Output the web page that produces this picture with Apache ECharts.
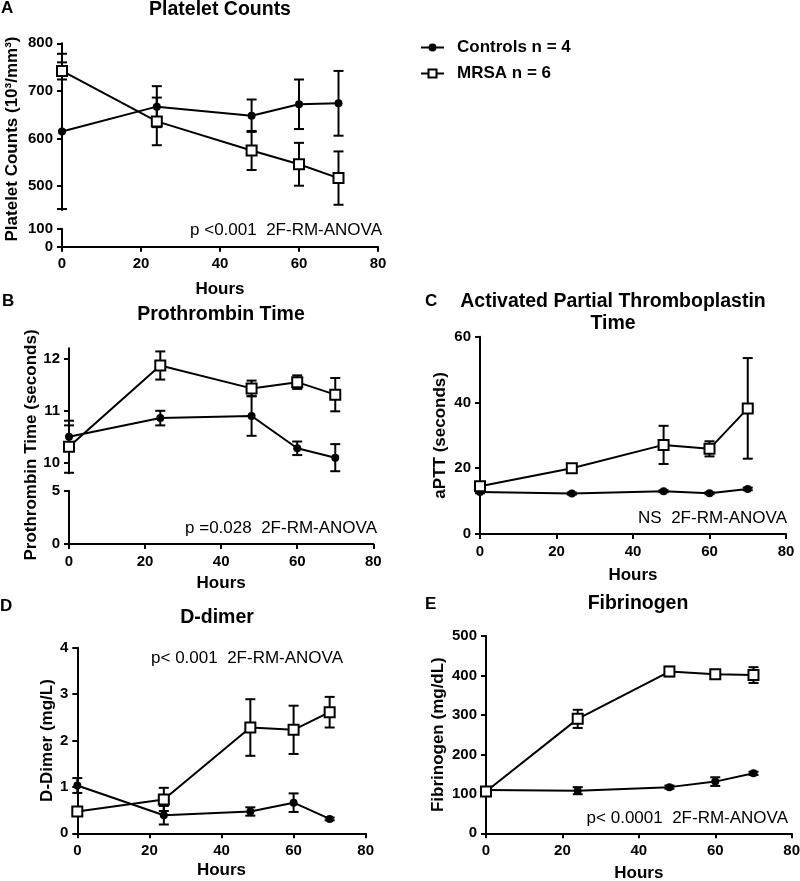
<!DOCTYPE html>
<html><head><meta charset="utf-8">
<script src="https://cdn.jsdelivr.net/npm/echarts@6/dist/echarts.min.js"></script>
<style>html,body{margin:0;padding:0;background:#fff}#c{width:800px;height:881px}</style>
</head><body><div id="c"></div>
<script>
// ---------- data ----------
const hours = [0, 24, 48, 60, 70];
const seriesNames = ['Controls n = 4', 'MRSA n = 6'];

const plateletCtrl    = [615, 667, 648, 672, 674];
const plateletCtrlErr = [163, 43, 34, 52, 68];
const plateletMrsa    = [742, 636, 575, 546, 517];
const plateletMrsaErr = [18, 50, 41, 45, 56];

const ptCtrl    = [10.50, 10.86, 10.90, 10.28, 10.10];
const ptCtrlErr = [0.22, 0.14, 0.38, 0.13, 0.26];
const ptMrsa    = [10.31, 11.87, 11.43, 11.55, 11.31];
const ptMrsaErr = [0.50, 0.27, 0.15, 0.13, 0.32];

const apttCtrl    = [12.8, 12.3, 13.0, 12.4, 13.7];
const apttCtrlErr = [0.4, 0.3, 0.3, 0.3, 0.4];
const apttMrsa    = [14.5, 20.0, 27.1, 25.9, 38.2];
const apttMrsaErr = [1.0, 0.8, 5.8, 2.3, 15.3];

const ddCtrl    = [1.03, 0.39, 0.47, 0.66, 0.31];
const ddCtrlErr = [0.16, 0.20, 0.09, 0.20, 0.03];
const ddMrsa    = [0.47, 0.73, 2.28, 2.23, 2.61];
const ddMrsaErr = [0.05, 0.25, 0.61, 0.52, 0.33];

const fibCtrl    = [110, 108, 117, 131, 152];
const fibCtrlErr = [3, 9, 4, 11, 4];
const fibMrsa    = [106, 290, 410, 403, 401];
const fibMrsaErr = [5, 23, 12, 6, 20];

const xTicks = [0, 20, 40, 60, 80];
const plateletTicksUpper = [500, 600, 700, 800];
const plateletTicksLower = [0, 100];
const ptTicksUpper = [10, 11, 12];
const ptTicksLower = [0, 5];
const apttTicks = [0, 20, 40, 60];
const ddTicks = [0, 1, 2, 3, 4];
const fibTicks = [0, 100, 200, 300, 400, 500];

// ---------- styling helpers ----------
const FF = '"Liberation Sans", Arial, Helvetica, sans-serif';
const grids = [
  {left: 62,   top: 43.3,  width: 316,   height: 166.7}, // 0 A upper
  {left: 62,   top: 228.7, width: 316,   height: 18},    // 1 A lower
  {left: 69,   top: 348.3, width: 304.3, height: 125},   // 2 B upper
  {left: 69,   top: 490.7, width: 304.3, height: 53.3},  // 3 B lower
  {left: 480,  top: 336.7, width: 306,   height: 197.3}, // 4 C
  {left: 77.3, top: 647.7, width: 288.4, height: 185.6}, // 5 D
  {left: 486,  top: 636,   width: 305.7, height: 197.3}  // 6 E
].map(g => Object.assign({outerBoundsMode: 'none', containLabel: false, show: false}, g));

function baseAxis(gridIndex, min, max, ticks, extra) {
  return Object.assign({
    type: 'value', gridIndex, min, max,
    axisLine: {show: true, onZero: false, lineStyle: {color: '#000', width: 2}},
    axisTick: {show: true, inside: false, length: 5, lineStyle: {color: '#000', width: 2}, customValues: ticks},
    axisLabel: {show: true, color: '#000', fontFamily: FF, fontWeight: 'bold', fontSize: 15, margin: 9, customValues: ticks},
    splitLine: {show: false},
    nameTextStyle: {color: '#000', fontFamily: FF, fontWeight: 'bold', fontSize: 17}
  }, extra || {});
}
function xAx(gridIndex, show, nameGap) {
  const a = baseAxis(gridIndex, 0, 80, xTicks, {position: 'bottom'});
  a.axisLabel.margin = 10;
  if (!show) { a.show = false; }
  else { a.name = 'Hours'; a.nameLocation = 'middle'; a.nameGap = nameGap; }
  return a;
}
function yAx(gridIndex, min, max, ticks, name, nameGap) {
  const a = baseAxis(gridIndex, min, max, ticks, {position: 'left'});
  if (name) { a.name = name; a.nameLocation = 'middle'; a.nameGap = nameGap; }
  return a;
}

const xAxes = [
  xAx(0, false), xAx(1, true, 34),
  xAx(2, false), xAx(3, true, 31),
  xAx(4, true, 33), xAx(5, true, 29), xAx(6, true, 32)
];
const yAxes = [
  yAx(0, 450, 800, plateletTicksUpper),
  yAx(1, 0, 100, plateletTicksLower),
  yAx(2, 9.8, 12.2, ptTicksUpper),
  yAx(3, 0, 5, ptTicksLower),
  yAx(4, 0, 60, apttTicks, 'aPTT (seconds)', 31),
  yAx(5, 0, 4, ddTicks, 'D-Dimer (mg/L)', 21),
  yAx(6, 0, 500, fibTicks, 'Fibrinogen (mg/dL)', 39)
];

function lineSeries(idx, nameIdx, vals) {
  const isCtrl = nameIdx === 0;
  return {
    type: 'line', name: seriesNames[nameIdx], xAxisIndex: idx, yAxisIndex: idx,
    data: hours.map((h, i) => [h, vals[i]]),
    symbol: isCtrl ? 'circle' : 'rect', symbolSize: isCtrl ? 8 : 10,
    itemStyle: isCtrl ? {color: '#000', borderColor: '#000', borderWidth: 0}
                      : {color: '#fff', borderColor: '#000', borderWidth: 2},
    lineStyle: {color: '#000', width: 2},
    z: isCtrl ? 4 : 5, animation: false, clip: false
  };
}
function errSeries(idx, vals, errs) {
  return {
    type: 'custom', xAxisIndex: idx, yAxisIndex: idx, z: 2, animation: false, silent: true,
    data: hours.map((h, i) => [h, vals[i], errs[i]]),
    encode: {x: 0, y: 1},
    renderItem: function (params, api) {
      const x = api.value(0), y = api.value(1), e = api.value(2);
      const t = api.coord([x, y + e]), b = api.coord([x, y - e]);
      const w = 5, st = {stroke: '#000', lineWidth: 2};
      return {type: 'group', children: [
        {type: 'line', shape: {x1: t[0], y1: t[1], x2: b[0], y2: b[1]}, style: st},
        {type: 'line', shape: {x1: t[0] - w, y1: t[1], x2: t[0] + w, y2: t[1]}, style: st},
        {type: 'line', shape: {x1: b[0] - w, y1: b[1], x2: b[0] + w, y2: b[1]}, style: st}
      ]};
    }
  };
}

const series = [
  errSeries(0, plateletCtrl, plateletCtrlErr), errSeries(0, plateletMrsa, plateletMrsaErr),
  lineSeries(0, 0, plateletCtrl), lineSeries(0, 1, plateletMrsa),
  errSeries(2, ptCtrl, ptCtrlErr), errSeries(2, ptMrsa, ptMrsaErr),
  lineSeries(2, 0, ptCtrl), lineSeries(2, 1, ptMrsa),
  errSeries(4, apttCtrl, apttCtrlErr), errSeries(4, apttMrsa, apttMrsaErr),
  lineSeries(4, 0, apttCtrl), lineSeries(4, 1, apttMrsa),
  errSeries(5, ddCtrl, ddCtrlErr), errSeries(5, ddMrsa, ddMrsaErr),
  lineSeries(5, 0, ddCtrl), lineSeries(5, 1, ddMrsa),
  errSeries(6, fibCtrl, fibCtrlErr), errSeries(6, fibMrsa, fibMrsaErr),
  lineSeries(6, 0, fibCtrl), lineSeries(6, 1, fibMrsa)
];

function txt(text, x, y, opts) {
  opts = opts || {};
  const align = opts.align || 'center';
  return {
    type: 'text', x, y, rotation: opts.rotation || 0, silent: true,
    style: {
      text, fill: '#000',
      font: (opts.weight || 'bold') + ' ' + (opts.size || 17) + 'px ' + FF,
      textAlign: align, align: align,
      textVerticalAlign: 'middle', verticalAlign: 'middle',
      lineHeight: opts.lineHeight
    }
  };
}
const graphics = [
  txt('A', 1, 8, {align: 'left'}),
  txt('Platelet Counts', 220, 10, {size: 19.5}),
  txt('Platelet Counts (10³/mm³)', 12, 139, {rotation: Math.PI / 2}),
  txt('p <0.001  2F-RM-ANOVA', 382, 230, {align: 'right', weight: 'normal'}),

  txt('B', 2, 301, {align: 'left'}),
  txt('Prothrombin Time', 221, 315, {size: 19.5}),
  txt('Prothrombin Time (seconds)', 31, 445, {rotation: Math.PI / 2}),
  txt('p =0.028  2F-RM-ANOVA', 377, 528, {align: 'right', weight: 'normal'}),

  txt('C', 425, 301, {align: 'left'}),
  txt('Activated Partial Thromboplastin\nTime', 613, 312.5, {size: 19.5, lineHeight: 22}),
  txt('NS  2F-RM-ANOVA', 787, 518, {align: 'right', weight: 'normal'}),

  txt('D', 0, 606, {align: 'left'}),
  txt('D-dimer', 217, 618, {size: 19.5}),
  txt('p< 0.001  2F-RM-ANOVA', 343, 658, {align: 'right', weight: 'normal'}),

  txt('E', 425, 604.5, {align: 'left'}),
  txt('Fibrinogen', 638, 604, {size: 19.5}),
  txt('p< 0.0001  2F-RM-ANOVA', 788, 818, {align: 'right', weight: 'normal'})
];

const chart = echarts.init(document.getElementById('c'), null, {renderer: 'canvas'});
chart.setOption({
  backgroundColor: '#fff',
  animation: false,
  grid: grids,
  xAxis: xAxes,
  yAxis: yAxes,
  legend: {
    data: seriesNames, orient: 'vertical', left: 415, top: 34,
    itemWidth: 23, itemHeight: 10, itemGap: 9,
    textStyle: {color: '#000', fontFamily: FF, fontWeight: 'bold', fontSize: 17, padding: [0, 0, 0, 8]},
    selectedMode: false
  },
  tooltip: {show: false},
  graphic: graphics,
  series
});
</script></body></html>
